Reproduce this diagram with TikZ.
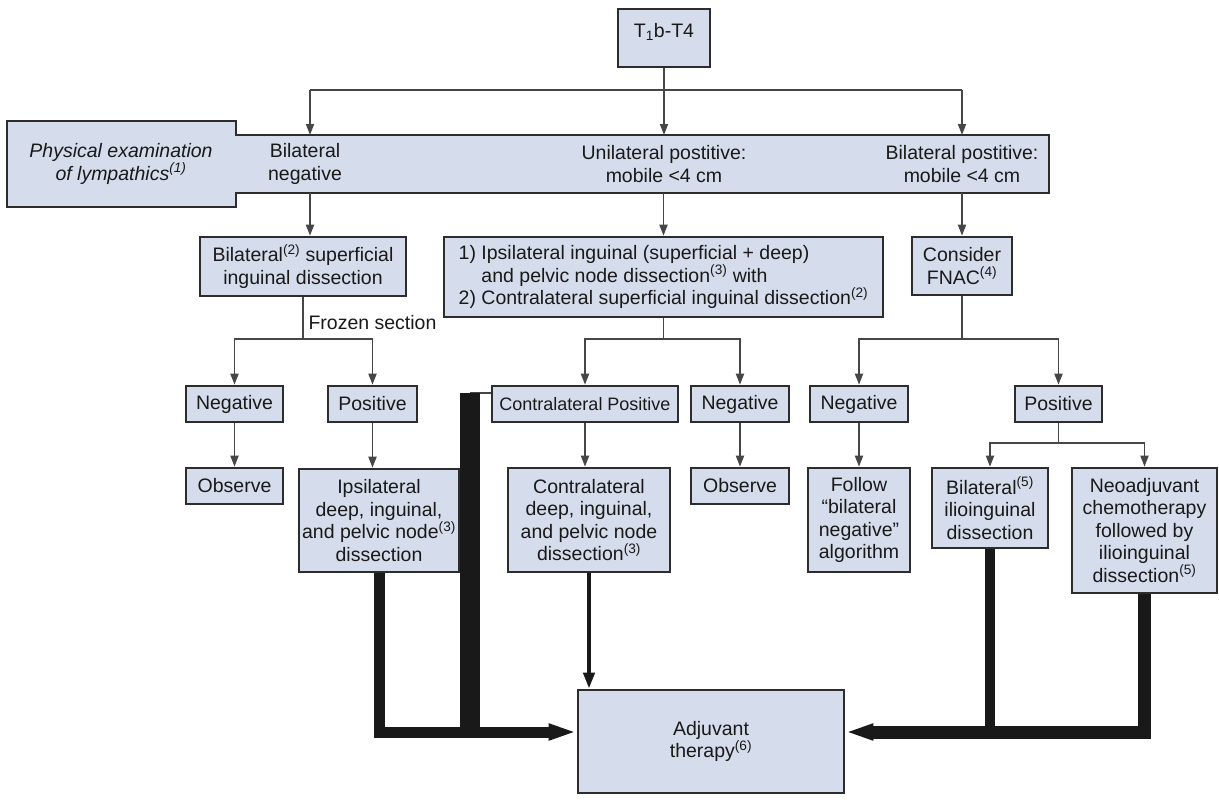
\documentclass[tikz,border=0pt]{standalone}
\usepackage{fontspec}
\setmainfont{Liberation Sans}
\usetikzlibrary{arrows.meta}
\definecolor{boxfill}{RGB}{213,220,235}
\definecolor{edgegray}{RGB}{45,45,45}
\definecolor{linegray}{RGB}{70,70,70}
\tikzset{
  flowbox/.style={draw=edgegray, line width=2.6pt, fill=boxfill, inner sep=0pt, align=center,
    text=black!90, font=\fontsize{19.5}{22.5}\selectfont},
  plaintext/.style={align=center, text=black!90, font=\fontsize{19.5}{22.5}\selectfont},
  conn/.style={draw=linegray, line width=1.8pt},
  connarr/.style={conn, -{Triangle[length=11pt,width=8pt]}},
  midarr/.style={draw=black!90, line width=4pt, -{Triangle[length=16pt,width=11pt]}},
  heavyline/.style={draw=black!90, line width=#1},
  heavyarr/.style={draw=black!90, line width=#1, -{Triangle[length=28pt,width=15pt]}},
}

\begin{document}
\begin{tikzpicture}[x=1pt,y=-1pt]
    \fill[white] (0,0) rectangle (1219,800);
    \useasboundingbox (0,0) rectangle (1219,800);

    \node[flowbox, minimum width=92pt, minimum height=58pt, text depth=16pt] (tbox) at (664,38) {T\textsubscript{1}b-T4};

    % examination banner
    \draw[draw=edgegray, line width=2.6pt, fill=boxfill] (7,121) -- (236,121) -- (236,135) -- (1049,135)
        -- (1049,193) -- (236,193) -- (236,207) -- (7,207) -- cycle;
    \node[plaintext, font=\fontsize{19.5}{22.5}\selectfont\itshape] (phys) at (121,164) {Physical examination\\of lympathics\textsuperscript{(1)}};
    \node[plaintext] (bneg) at (305,164) {Bilateral\\negative};
    \node[plaintext] (upos) at (664,164) {Unilateral postitive:\\mobile <4 cm};
    \node[plaintext] (bpos) at (962,164) {Bilateral postitive:\\mobile <4 cm};

    \coordinate (bantop) at (0,135);
    \coordinate (banbot) at (0,193);
    \coordinate (ta) at (310,90);
    \coordinate (tc) at (962,90);

    \node[flowbox, minimum width=206pt, minimum height=59pt] (bsup) at (303,266.5) {Bilateral\textsuperscript{(2)} superficial\\inguinal dissection};
    \node[flowbox, minimum width=439pt, minimum height=80pt, align=left] (unibox) at (663.5,277)
        {1) Ipsilateral inguinal (superficial + deep)\\\phantom{1) }and pelvic node dissection\textsuperscript{(3)} with\\2) Contralateral superficial inguinal dissection\textsuperscript{(2)}};
    \node[flowbox, minimum width=100pt, minimum height=58pt] (fnac) at (962,266) {Consider\\FNAC\textsuperscript{(4)}};

    \node[flowbox, minimum width=97pt, minimum height=36pt] (neg1) at (234.5,404) {Negative};
    \node[flowbox, minimum width=89pt, minimum height=36pt] (pos1) at (372.5,404) {Positive};
    \node[flowbox, minimum width=186pt, minimum height=36pt, font=\fontsize{18}{21}\selectfont] (contra) at (585,404) {Contralateral Positive};
    \node[flowbox, minimum width=98pt, minimum height=36pt] (neg2) at (740,404) {Negative};
    \node[flowbox, minimum width=98pt, minimum height=36pt] (neg3) at (859,404) {Negative};
    \node[flowbox, minimum width=87pt, minimum height=36pt] (pos3) at (1058.5,404) {Positive};

    \node[flowbox, minimum width=97pt, minimum height=36pt] (obs1) at (234.5,486) {Observe};
    \node[flowbox, minimum width=160pt, minimum height=103pt] (ipsi) at (379,520.5) {Ipsilateral\\deep, inguinal,\\and pelvic node\textsuperscript{(3)}\\dissection};
    \node[flowbox, minimum width=162pt, minimum height=104pt] (cdeep) at (589,520) {Contralateral\\deep, inguinal,\\and pelvic node\\dissection\textsuperscript{(3)}};
    \node[flowbox, minimum width=98pt, minimum height=36pt] (obs2) at (740,486) {Observe};
    \node[flowbox, minimum width=102pt, minimum height=104pt] (follow) at (859,520) {Follow\\“bilateral\\negative”\\algorithm};
    \node[flowbox, minimum width=116pt, minimum height=80pt] (bil5) at (990,508) {Bilateral\textsuperscript{(5)}\\ilioinguinal\\dissection};
    \node[flowbox, minimum width=145pt, minimum height=125pt] (neo) at (1144.5,530.5) {Neoadjuvant\\chemotherapy\\followed by\\ilioinguinal\\dissection\textsuperscript{(5)}};

    \node[flowbox, minimum width=266pt, minimum height=103pt] (adj) at (711,741.5) {Adjuvant\\therapy\textsuperscript{(6)}};

    % thin connectors
    \draw[conn] (ta) -- (tc);
    \draw[connarr] (tbox) -- (tbox |- bantop);
    \draw[connarr] (ta) -- (ta |- bantop);
    \draw[connarr] (tc) -- (tc |- bantop);
    \draw[connarr] (ta |- banbot) -- (ta |- bsup.north);
    \draw[connarr] (unibox |- banbot) -- (unibox);
    \draw[connarr] (tc |- banbot) -- (fnac);

    \coordinate (ja) at (303,339);
    \coordinate (jb) at (663.5,339);
    \coordinate (jc) at (962,339);
    \coordinate (jd) at (1058.5,443);
    \draw[conn] (bsup) -- (ja);
    \node[plaintext, anchor=west] (frozen) at (305,323) {Frozen section};
    \draw[connarr] (ja) -| (neg1);
    \draw[connarr] (ja) -| (pos1);
    \draw[conn] (unibox) -- (jb);
    \draw[connarr] (jb) -| (contra);
    \draw[connarr] (jb) -| (neg2);
    \draw[conn] (fnac) -- (jc);
    \draw[connarr] (jc) -| (neg3);
    \draw[connarr] (jc) -| (pos3);

    \draw[connarr] (neg1) -- (obs1);
    \draw[connarr] (pos1) -- (pos1 |- ipsi.north);
    \draw[connarr] (contra) -- (contra |- cdeep.north);
    \draw[connarr] (neg2) -- (obs2);
    \draw[connarr] (neg3) -- (follow);
    \draw[conn] (pos3) -- (jd);
    \draw[connarr] (jd) -| (bil5);
    \draw[connarr] (jd) -| (neo);

    % heavy connectors into adjuvant therapy
    \coordinate (ybar) at (0,732);
    \coordinate (cbar) at (470,393);
    \draw[conn] (contra.west |- cbar) -- (cbar);
    \draw[heavyline=20pt] (cbar) -- (cbar |- ybar);
    \draw[heavyarr=11pt] (ipsi.south) -- (ipsi.south |- ybar) -- (adj.west |- ybar);
    \draw[midarr] (cdeep) -- (cdeep |- adj.north);
    \draw[heavyline=10pt] (bil5) -- (bil5 |- ybar);
    \draw[heavyarr=13pt] (neo) -- (neo |- ybar) -- (adj.east |- ybar);
\end{tikzpicture}
\end{document}
